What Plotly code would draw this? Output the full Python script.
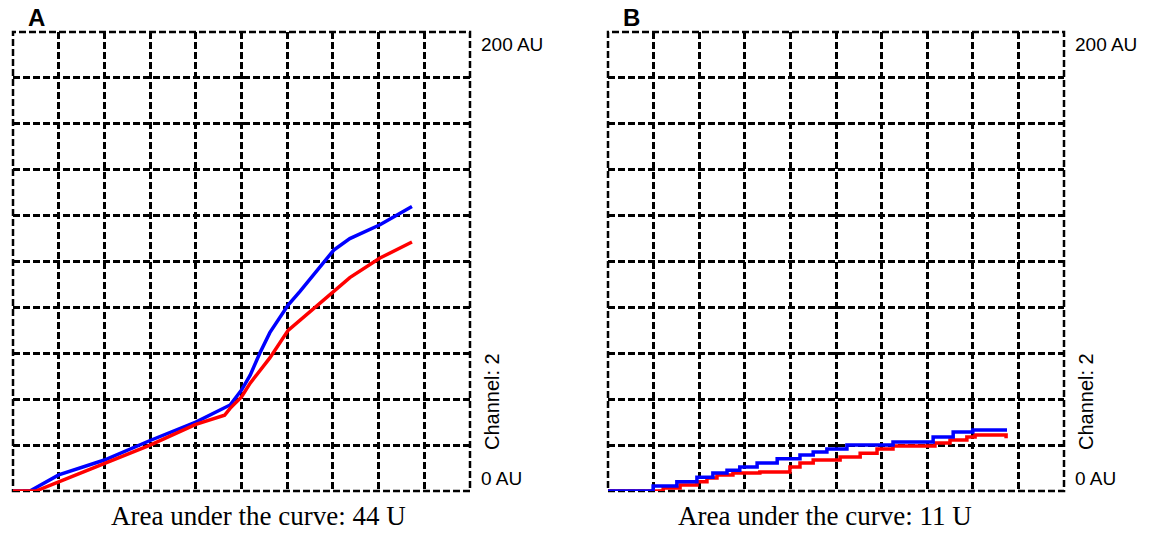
import plotly.graph_objects as go

# Panel A (x in grid divisions 0-10, y in AU 0-200)
a_blue_x = [0, 0.37, 1.0, 2.0, 3.0, 4.0, 4.75, 5.0, 5.19, 5.4, 5.62, 6.02, 6.28, 6.72, 7.02, 7.37, 8.03, 8.73]
a_blue_y = [0, 0, 7, 13.5, 22, 30, 37.5, 44, 50.5, 60, 69, 81, 87, 97.6, 105, 110, 116, 124]
a_red_x = [0, 0.5, 1.0, 2.0, 3.0, 4.0, 4.63, 4.75, 5.0, 5.19, 5.62, 6.02, 6.28, 7.02, 7.37, 8.03, 8.73]
a_red_y = [0, 0, 4, 12, 20, 29, 33, 36, 41, 47, 58, 70, 74.5, 87, 93, 101.5, 108.5]

# Panel B (step traces)
b_blue_x = [0, 0.99, 1.51, 1.95, 2.30, 2.61, 2.89, 3.27, 3.71, 4.21, 4.50, 4.80, 5.24, 6.25, 7.13, 7.57, 8.00, 8.75]
b_blue_y = [0, 2.2, 4, 6, 7.8, 9, 10.5, 12.2, 14, 15.7, 17, 18.3, 20, 21.4, 23.5, 25.7, 26.6, 26.6]
b_red_x = [0, 1.21, 1.58, 1.95, 2.17, 2.39, 2.74, 3.33, 3.99, 4.21, 4.50, 5.09, 5.53, 5.90, 6.25, 7.17, 7.50, 7.87, 8.05, 8.60, 8.73]
b_red_y = [0, 1.3, 2.6, 4, 5.7, 7, 7.8, 8.3, 10.5, 12.2, 13.5, 14.8, 16.5, 18.3, 19.6, 20.9, 22.2, 23.5, 24.4, 24.4, 23]

panel_labels = ["A", "B"]
captions = ["Area under the curve: 44 U", "Area under the curve: 11 U"]
top_label = "200 AU"
bottom_label = "0 AU"
channel_label = "Channel: 2"

W, H = 1152, 533
BLUE = "#0000ff"
RED = "#ff0000"

def px(x):
    return x / W

def py(y):
    return 1 - y / H

panels = [(13, 470), (608, 1064)]
top_px, bot_px = 32, 491
DASH = "7px,3px"

fig = go.Figure()

fig.add_trace(go.Scatter(x=a_blue_x, y=a_blue_y, mode="lines", line=dict(color=BLUE, width=3.5),
                         xaxis="x", yaxis="y", showlegend=False))
fig.add_trace(go.Scatter(x=a_red_x, y=a_red_y, mode="lines", line=dict(color=RED, width=3.5),
                         xaxis="x", yaxis="y", showlegend=False))
fig.add_trace(go.Scatter(x=b_red_x, y=b_red_y, mode="lines", line=dict(color=RED, width=3.5, shape="hv"),
                         xaxis="x2", yaxis="y2", showlegend=False))
fig.add_trace(go.Scatter(x=b_blue_x, y=b_blue_y, mode="lines", line=dict(color=BLUE, width=3.5, shape="hv"),
                         xaxis="x2", yaxis="y2", showlegend=False))

grid_common = dict(showgrid=True, gridcolor="black", gridwidth=2.5, griddash=DASH,
                   showticklabels=False, ticks="", zeroline=False, showline=False, fixedrange=True)

layout = dict(
    width=W, height=H, margin=dict(l=0, r=0, t=0, b=0),
    paper_bgcolor="white", plot_bgcolor="white",
    xaxis=dict(domain=[px(panels[0][0]), px(panels[0][1])], range=[0, 10], dtick=1, anchor="y", **grid_common),
    yaxis=dict(domain=[py(bot_px), py(top_px)], range=[0, 200], dtick=20, anchor="x", **grid_common),
    xaxis2=dict(domain=[px(panels[1][0]), px(panels[1][1])], range=[0, 10], dtick=1, anchor="y2", **grid_common),
    yaxis2=dict(domain=[py(bot_px), py(top_px)], range=[0, 200], dtick=20, anchor="x2", **grid_common),
)
fig.update_layout(**layout)

shapes = []
annotations = []
for i, (xl, xr) in enumerate(panels):
    suffix = "" if i == 0 else "2"
    shapes.append(dict(type="rect", xref=f"x{suffix} domain", yref=f"y{suffix} domain",
                       x0=0, x1=1, y0=0, y1=1, line=dict(color="black", width=2.5, dash=DASH),
                       layer="below"))
    annotations.append(dict(text=f"<b>{panel_labels[i]}</b>", x=px(xl + 13), y=py(18), xref="paper", yref="paper",
                            showarrow=False, xanchor="left", yanchor="middle",
                            font=dict(family="Liberation Sans, Arial", size=24, color="black")))
    annotations.append(dict(text=top_label, x=px(xr + 9), y=py(44), xref="paper", yref="paper",
                            showarrow=False, xanchor="left", yanchor="middle",
                            font=dict(family="Liberation Sans, Arial", size=19, color="black")))
    annotations.append(dict(text=bottom_label, x=px(xr + 9), y=py(478), xref="paper", yref="paper",
                            showarrow=False, xanchor="left", yanchor="middle",
                            font=dict(family="Liberation Sans, Arial", size=19, color="black")))
    annotations.append(dict(text=channel_label, x=px(xr + 22), y=py(402), xref="paper", yref="paper",
                            showarrow=False, xanchor="center", yanchor="middle", textangle=-90,
                            font=dict(family="Liberation Sans, Arial", size=20, color="black")))
    cx = 258 if i == 0 else 825
    annotations.append(dict(text=captions[i], x=px(cx), y=py(516), xref="paper", yref="paper",
                            showarrow=False, xanchor="center", yanchor="middle",
                            font=dict(family="Liberation Serif, Times New Roman", size=27, color="black")))

fig.update_layout(shapes=shapes, annotations=annotations)
fig.write_html("out.html", config={"displayModeBar": False},
               post_script="document.body.style.margin='0';document.body.style.overflow='hidden';")
